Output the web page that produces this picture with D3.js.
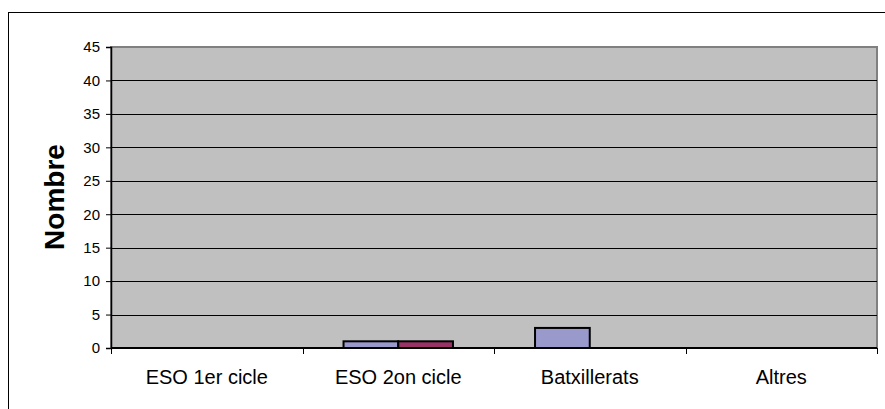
<!DOCTYPE html>
<html><head><meta charset="utf-8">
<script src="https://cdn.jsdelivr.net/npm/d3@7"></script>
<style>body{margin:0;background:#fff}svg{display:block;font-family:"Liberation Sans",Arial,sans-serif}</style>
</head><body>
<script>
const categories = ["ESO 1er cicle", "ESO 2on cicle", "Batxillerats", "Altres"];
const series1 = [0, 1, 3, 0];
const series2 = [0, 1, 0, 0];
const yTicks = [0, 5, 10, 15, 20, 25, 30, 35, 40, 45];
const yTitle = "Nombre";

const W = 885, H = 409;
const svg = d3.select("body").append("svg").attr("width", W).attr("height", H);

svg.append("rect").attr("x", 8.5).attr("y", 12.5).attr("width", 900).attr("height", 420)
  .attr("fill", "#fff").attr("stroke", "#000").attr("stroke-width", 1);

const L = 111, R = 877, T = 47, B = 348;
const x = d3.scaleBand().domain(categories).range([L, R]);
const y = d3.scaleLinear().domain([0, 45]).range([B, T]);

svg.append("rect").attr("x", L).attr("y", T).attr("width", R - L).attr("height", B - T)
  .attr("fill", "#c0c0c0").attr("stroke", "#808080").attr("stroke-width", 2);

svg.append("g").selectAll("line").data(yTicks.filter(d => d > 0 && d < 45)).join("line")
  .attr("x1", L).attr("x2", R).attr("y1", d => Math.round(y(d)) + 0.5).attr("y2", d => Math.round(y(d)) + 0.5)
  .attr("stroke", "#000").attr("stroke-width", 1);

const bw = x.bandwidth() / 3.5;
const gap = bw * 0.75;
const data = [];
categories.forEach((c, i) => {
  data.push({c, k: 0, v: series1[i]});
  data.push({c, k: 1, v: series2[i]});
});
svg.append("g").selectAll("rect").data(data.filter(d => d.v > 0)).join("rect")
  .attr("x", d => x(d.c) + gap + d.k * bw)
  .attr("y", d => y(d.v))
  .attr("width", bw)
  .attr("height", d => B - y(d.v))
  .attr("fill", d => d.k === 0 ? "#9999cc" : "#993366")
  .attr("stroke", "#000").attr("stroke-width", 2);

const yAxis = svg.append("g").attr("transform", `translate(${L},0)`)
  .call(d3.axisLeft(y).tickValues(yTicks).tickSize(5).tickPadding(6));
yAxis.select(".domain").attr("stroke", "#000").attr("stroke-width", 1.5);
yAxis.selectAll(".tick line").attr("stroke", "#000");
yAxis.selectAll("text").attr("font-size", 15).attr("fill", "#000")
  .attr("font-family", "Liberation Sans, Arial, sans-serif");

const xAxis = svg.append("g").attr("transform", `translate(0,${B})`)
  .call(d3.axisBottom(x).tickSize(0).tickPadding(22));
xAxis.select(".domain").remove();
xAxis.selectAll("text").attr("font-size", 20).attr("fill", "#000")
  .attr("font-family", "Liberation Sans, Arial, sans-serif");
svg.append("line").attr("x1", L).attr("x2", R).attr("y1", B).attr("y2", B)
  .attr("stroke", "#000").attr("stroke-width", 2);
svg.append("g").selectAll("line").data(categories.concat(["__end"])).join("line")
  .attr("x1", (d, i) => Math.round(L + i * x.step()) + 0.5)
  .attr("x2", (d, i) => Math.round(L + i * x.step()) + 0.5)
  .attr("y1", B).attr("y2", B + 6).attr("stroke", "#000");

svg.append("text").attr("transform", "translate(64,197) rotate(-90)")
  .attr("text-anchor", "middle").attr("font-size", 28).attr("font-weight", "bold")
  .text(yTitle);
</script>
</body></html>
